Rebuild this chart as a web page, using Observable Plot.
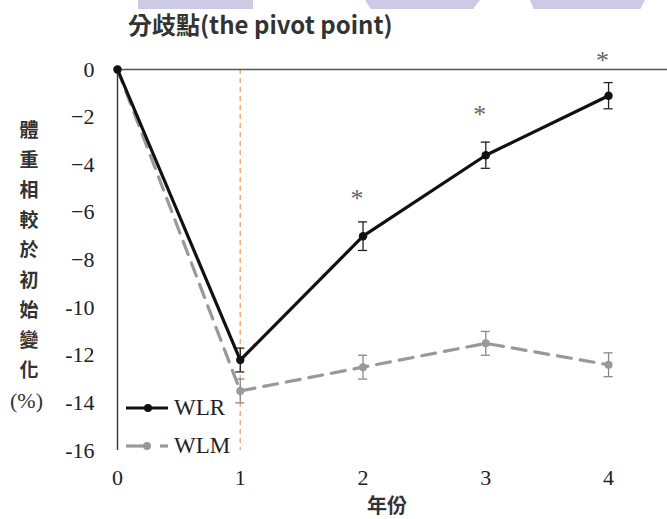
<!DOCTYPE html>
<html><head><meta charset="utf-8">
<script src="https://cdn.jsdelivr.net/npm/d3@7"></script>
<script src="https://cdn.jsdelivr.net/npm/@observablehq/plot@0.6"></script>
<style>
html,body{margin:0;padding:0;background:#fff;}
#wrap{position:relative;width:667px;height:519px;overflow:hidden;background:#fff;}
.wm{position:absolute;top:0;height:9px;background:#cdcae6;z-index:5;}
#title{position:absolute;left:128px;top:9px;font-family:"Noto Sans CJK TC","Noto Sans",sans-serif;font-weight:700;font-size:24px;color:#333;white-space:nowrap;line-height:30px;}
#ylab{position:absolute;left:16px;top:114px;width:26px;text-align:center;font-family:"Noto Sans CJK TC",sans-serif;font-weight:700;font-size:19px;line-height:30px;color:#333;}
#ypct{position:absolute;left:10px;top:388px;font-family:"Liberation Serif",serif;font-size:22px;color:#333;}
#xlab{position:absolute;left:367px;top:491px;font-family:"Noto Sans CJK TC",sans-serif;font-weight:700;font-size:20px;line-height:28px;color:#333;}
#plot{position:absolute;left:0;top:0;}
#legend{position:absolute;left:124px;top:389px;font-family:"Liberation Serif",serif;font-size:23px;color:#222;}
.li{display:flex;align-items:center;height:38px;}
.li svg{margin-right:4px;}
</style></head>
<body>
<div id="wrap">
  <div id="plot"></div>
  <div class="wm" style="left:138px;width:115px;"></div>
  <div class="wm" style="left:365px;width:115px;clip-path:polygon(0 0,100% 0,94% 100%,5% 100%)"></div>
  <div class="wm" style="left:530px;width:115px;clip-path:polygon(0 0,100% 0,96% 100%,3% 100%)"></div>
  <div id="title"></div>
  <div id="ylab"></div>
  <div id="ypct"></div>
  <div id="xlab"></div>
  <div id="legend"></div>
</div>
<script>
// ---- data ----
const years = [0, 1, 2, 3, 4];
const wlrValues = [0, -12.2, -7.0, -3.6, -1.1];
const wlrErrors = [0, 0.5, 0.6, 0.55, 0.55];
const wlmValues = [0, -13.5, -12.5, -11.5, -12.4];
const wlmErrors = [0, 0.5, 0.5, 0.5, 0.5];
const sigYears = [2, 3, 4];
const sigHeights = [-5.2, -1.7, 0.6];
const pivotYear = [1];
const yTicks = [0, -2, -4, -6, -8, -10, -12, -14, -16];
const yTickLabels = ["0", "\u22122", "\u22124", "\u22126", "\u22128", "-10", "-12", "-14", "-16"];
const xTicks = [0, 1, 2, 3, 4];
const xTickLabels = ["0", "1", "2", "3", "4"];
const seriesNames = ["WLR", "WLM"];
const titleText = "分歧點(the pivot point)";
const yLabelChars = ["體", "重", "相", "較", "於", "初", "始", "變", "化"];
const yLabelUnit = "(%)";
const xLabelText = "年份";

const wlr = years.map((x, i) => ({x, y: wlrValues[i], e: wlrErrors[i]}));
const wlm = years.map((x, i) => ({x, y: wlmValues[i], e: wlmErrors[i]}));
const sig = sigYears.map((x, i) => ({x, y: sigHeights[i]}));
const yLab = new Map(yTicks.map((t, i) => [t, yTickLabels[i]]));
const xLab = new Map(xTicks.map((t, i) => [t, xTickLabels[i]]));
const cap = 0.037;
const serif = "serif";

function errMarks(data, color) {
  const d = data.filter(p => p.e > 0);
  return [
    Plot.ruleX(d, {x: "x", y1: p => p.y - p.e, y2: p => p.y + p.e, stroke: color, strokeWidth: 1.3}),
    Plot.ruleY(d, {y: p => p.y + p.e, x1: p => p.x - cap, x2: p => p.x + cap, stroke: color, strokeWidth: 1.3}),
    Plot.ruleY(d, {y: p => p.y - p.e, x1: p => p.x - cap, x2: p => p.x + cap, stroke: color, strokeWidth: 1.3})
  ];
}

const chart = Plot.plot({
  width: 667,
  height: 519,
  marginLeft: 117,
  marginRight: 0,
  marginTop: 69,
  marginBottom: 69,
  x: {domain: [0, 4.48]},
  y: {domain: [-16, 0]},
  style: {fontFamily: serif, background: "transparent", color: "#222"},
  marks: [
    Plot.ruleX(pivotYear, {stroke: "#f2ad78", strokeWidth: 1.5, strokeDasharray: "5,4"}),
    Plot.ruleY([0], {stroke: "#555", strokeWidth: 1.6}),
    Plot.ruleX([0], {stroke: "#333", strokeWidth: 1.4}),
    Plot.axisY(yTicks, {tickSize: 0, tickPadding: 23, fontSize: 22, fontFamily: serif, fill: "#222", tickFormat: d => yLab.get(d), label: null}),
    Plot.axisX(xTicks, {tickSize: 0, tickPadding: 19, fontSize: 22, fontFamily: serif, fill: "#222", tickFormat: d => xLab.get(d), label: null}),
    ...errMarks(wlm, "#888"),
    Plot.line(wlm, {x: "x", y: "y", stroke: "#999", strokeWidth: 3.2, strokeDasharray: "14,9"}),
    Plot.dot(wlm, {x: "x", y: "y", r: 4, fill: "#999"}),
    ...errMarks(wlr, "#222"),
    Plot.line(wlr, {x: "x", y: "y", stroke: "#111", strokeWidth: 3.2}),
    Plot.dot(wlr, {x: "x", y: "y", r: 4.2, fill: "#111"}),
    Plot.text(sig, {x: "x", y: "y", text: () => "*", fontSize: 26, fontFamily: serif, fill: "#666", dx: -6, dy: 5})
  ]
});
document.getElementById("plot").appendChild(chart);

document.getElementById("title").textContent = titleText;
document.getElementById("ylab").innerHTML = yLabelChars.map(c => `<div>${c}</div>`).join("");
document.getElementById("ypct").textContent = yLabelUnit;
document.getElementById("xlab").textContent = xLabelText;

const swatches = [
  `<svg width="46" height="12"><line x1="2" y1="6" x2="44" y2="6" stroke="#111" stroke-width="3.2"/><circle cx="24" cy="6" r="4" fill="#111"/></svg>`,
  `<svg width="46" height="12"><line x1="2" y1="6" x2="20" y2="6" stroke="#999" stroke-width="3.2"/><circle cx="23" cy="6" r="4" fill="#999"/><line x1="36" y1="6" x2="44" y2="6" stroke="#999" stroke-width="3.2"/></svg>`
];
document.getElementById("legend").innerHTML = seriesNames.map((n, i) =>
  `<div class="li">${swatches[i]}<span>${n}</span></div>`).join("");
</script>
</body></html>
